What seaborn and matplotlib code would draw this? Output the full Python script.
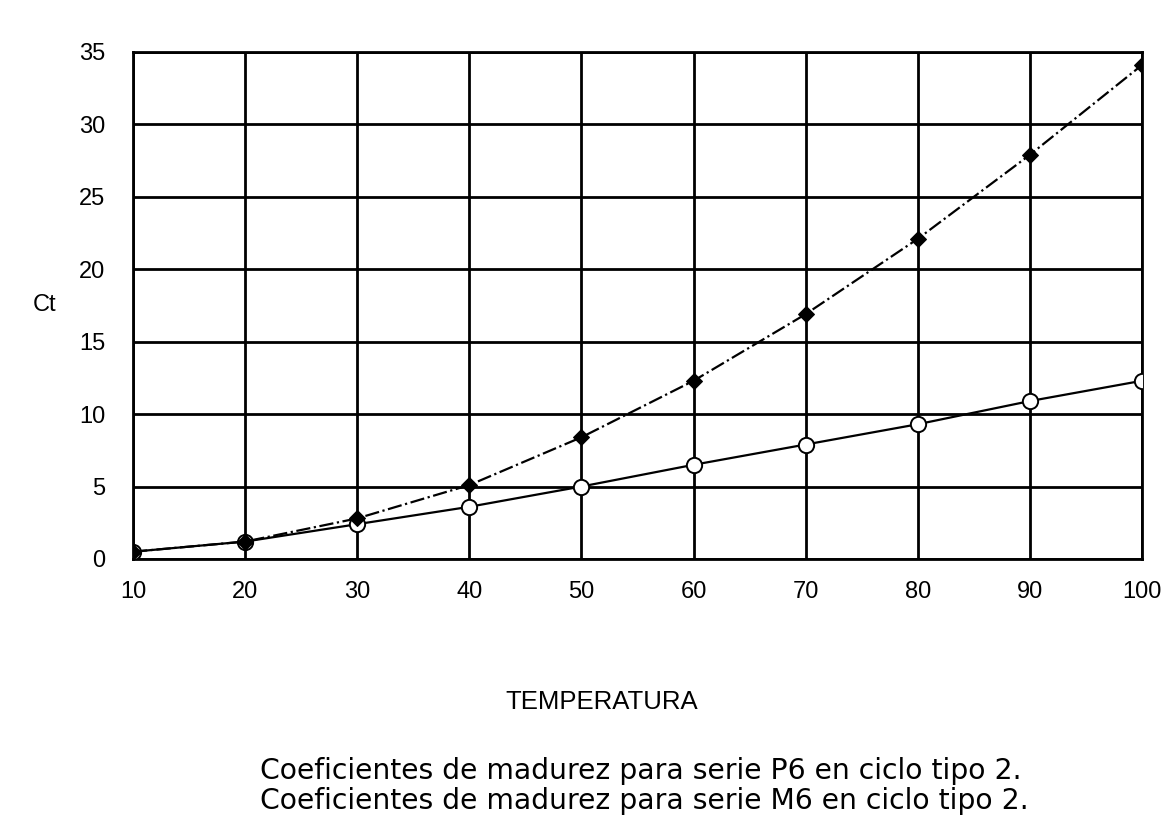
import pandas as pd
import seaborn as sns
import matplotlib.pyplot as plt

sns.set_style('white')
plt.rcParams['font.family'] = ['Liberation Sans', 'DejaVu Sans']
plt.rcParams['text.color'] = 'black'
plt.rcParams['xtick.color'] = 'black'
plt.rcParams['ytick.color'] = 'black'

### Data
temperatura = [10, 20, 30, 40, 50, 60, 70, 80, 90, 100]
ct_p6 = [0.5, 1.2, 2.8, 5.1, 8.4, 12.3, 16.9, 22.1, 27.9, 34.1]
ct_m6 = [0.5, 1.2, 2.4, 3.6, 5.0, 6.5, 7.9, 9.3, 10.9, 12.3]
x_ticks = [10, 20, 30, 40, 50, 60, 70, 80, 90, 100]
y_ticks = [0, 5, 10, 15, 20, 25, 30, 35]

df = pd.DataFrame({'temperatura': temperatura, 'P6': ct_p6, 'M6': ct_m6})

### Canvas
fig = plt.figure(figsize=(11.73, 8.38), dpi=100)
ax = fig.add_axes([0.1134, 0.333, 0.8602, 0.605])

### Series
sns.lineplot(data=df, x='temperatura', y='M6', ax=ax, color='black', linewidth=1.6,
             marker='o', markersize=11, markerfacecolor='white', markeredgecolor='black',
             markeredgewidth=1.4, zorder=3)
sns.lineplot(data=df, x='temperatura', y='P6', ax=ax, color='black', linewidth=1.6,
             linestyle='-.', marker='D', markersize=8, markerfacecolor='black',
             markeredgecolor='black', zorder=4)

### Limits, grid
ax.set_xlim(10, 100)
ax.set_ylim(0, 35)
ax.set_xticks(x_ticks)
ax.set_yticks(y_ticks)
ax.grid(True, color='black', linewidth=2)
ax.set_axisbelow(True)
for m in ['top', 'bottom', 'left', 'right']:
    ax.spines[m].set_linewidth(2)
    ax.spines[m].set_color('black')
ax.tick_params(axis='x', direction='out', length=8, width=2, pad=8, labelsize=17)
ax.tick_params(axis='y', direction='out', length=4, width=2, pad=16, labelsize=17)

### Labels
ax.set_xlabel('')
ax.set_ylabel('')
ax.text(-0.088, 0.501, 'Ct', transform=ax.transAxes, ha='center', va='center', fontsize=17)
fig.text(0.513, 0.162, 'TEMPERATURA', ha='center', va='center', fontsize=18.5)

fig.text(0.222, 0.062,
         'Coeficientes de madurez para serie P6 en ciclo tipo 2.\n'
         'Coeficientes de madurez para serie M6 en ciclo tipo 2.',
         ha='left', va='center', fontsize=20.3, linespacing=1.12,
         family=['DejaVu Sans'])

fig.savefig('out.png', dpi=100, facecolor='white')
